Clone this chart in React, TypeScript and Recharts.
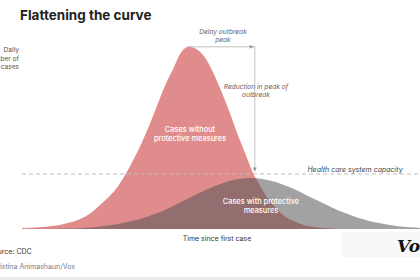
import { Area, ComposedChart, ReferenceDot, ReferenceLine, XAxis, YAxis } from 'recharts';

// time since first case (arbitrary units)
const time = [
  0, 2, 4, 6, 8, 10, 12, 14, 16, 18, 20, 22, 24, 26, 28, 30, 32, 34, 36, 38, 40, 42, 44, 46, 48, 50,
  52, 54, 56, 58, 60, 62, 64, 66, 68, 70, 72, 74, 76, 78, 80, 82, 84, 86, 88, 90, 92, 94, 96, 98, 100,
];

// daily cases without protective measures (peak = 100)
const withoutMeasures = [
  0.5, 0.7, 1, 1.3, 1.8, 2.5, 3.5, 5, 7, 10, 14, 18, 23, 30, 38, 47, 57, 68, 79, 88, 97, 100, 98.5, 94,
  86, 76, 65, 53, 42, 31, 23, 16, 11, 7, 4.6, 2.8, 1.7, 1, 0.5, 0.3, 0, 0, 0, 0, 0, 0, 0, 0, 0, 0, 0,
];

// daily cases with protective measures
const withMeasures = [
  0, 0, 0.05, 0.1, 0.15, 0.2, 0.3, 0.45, 0.7, 1, 1.5, 2, 2.7, 3.6, 4.6, 5.8, 7.2, 8.8, 10.6, 12.6,
  14.8, 17, 19.2, 21.3, 23.2, 24.9, 26.3, 27.3, 27.9, 28, 27.6, 26.8, 25.6, 24, 22.2, 20.2, 18, 15.9,
  13.8, 11.7, 9.8, 8.1, 6.5, 5.2, 4, 3.1, 2.3, 1.7, 1.3, 0.9, 0.6,
];

const capacity = 30.2;
const peakShift = [41.5, 58.5]; // delay of the outbreak peak
const reducedPeak = 31.5; // where the reduction arrow ends

const rows = time.map((t, i) => ({ t, red: withoutMeasures[i], gray: withMeasures[i] }));

const arrowColor = '#b3b3b3';

const ArrowRight = (p: any) => (
  <path d={`M${p.cx - 4},${p.cy - 2} L${p.cx},${p.cy} L${p.cx - 4},${p.cy + 2} Z`} fill='#999' />
);
const ArrowDown = (p: any) => (
  <path d={`M${p.cx - 2},${p.cy - 4} L${p.cx},${p.cy} L${p.cx + 2},${p.cy - 4} Z`} fill='#999' />
);

export default function App() {
  const small = { fontFamily: 'Inter, sans-serif', fontSize: 6.6 };
  return (
    <div style={{ position: 'fixed', left: 0, top: 0, width: 420, height: 280, background: '#fff', overflow: 'hidden' }}>
      <ComposedChart width={420} height={280} data={rows} margin={{ top: 45, right: 0, bottom: 51, left: 22 }}>
        <XAxis dataKey='t' type='number' domain={[0, 99.5]} height={0} tick={false} tickLine={false} axisLine={{ stroke: '#dcdcdc' }} />
        <YAxis type='number' domain={[0, 101]} width={0} tick={false} tickLine={false} axisLine={{ stroke: '#dcdcdc' }} />
        <Area type='monotone' dataKey='red' stroke='none' fill='#e08c8c' fillOpacity={1} isAnimationActive={false} />
        <Area type='monotone' dataKey='gray' stroke='none' fill='#555555' fillOpacity={0.55} isAnimationActive={false} />
        <ReferenceLine y={capacity} stroke='#bdbdbd' strokeDasharray='4 3' />
        <ReferenceLine segment={[{ x: peakShift[0], y: 100 }, { x: peakShift[1], y: 100 }]} stroke={arrowColor} strokeWidth={0.8} />
        <ReferenceLine segment={[{ x: peakShift[1], y: 100 }, { x: peakShift[1], y: reducedPeak }]} stroke={arrowColor} strokeWidth={0.8} />
        <ReferenceDot x={peakShift[1] - 0.3} y={100} r={2} shape={ArrowRight} />
        <ReferenceDot x={peakShift[1]} y={reducedPeak} r={2} shape={ArrowDown} />
      </ComposedChart>
      <svg width={420} height={280} style={{ position: 'absolute', left: 0, top: 0, pointerEvents: 'none' }}>
        <text x={20} y={20} fontFamily='Inter, sans-serif' fontWeight={700} fontSize={13.5} fill='#222'>
          Flattening the curve
        </text>
        <g {...small} fill='#555' textAnchor='end'>
          <text x={19} y={52}>Daily</text>
          <text x={19} y={60.5}>number of</text>
          <text x={19} y={69}>cases</text>
        </g>
        <g {...small} fill='#666' fontStyle='italic' textAnchor='middle'>
          <text x={223} y={34}>Delay outbreak</text>
          <text x={223} y={42}>peak</text>
          <text x={256} y={89}>Reduction in peak of</text>
          <text x={256} y={97}>outbreak</text>
        </g>
        <text x={355} y={171.5} {...small} fontSize={7} fill='#444' fontStyle='italic' textAnchor='middle'>
          Health care system capacity
        </text>
        <g {...small} fontSize={7.4} fill='#fff' textAnchor='middle' fontWeight={500}>
          <text x={190} y={132}>Cases without</text>
          <text x={190} y={141}>protective measures</text>
          <text x={261} y={203.5}>Cases with protective</text>
          <text x={261} y={212.5}>measures</text>
        </g>
        <text x={217} y={240.5} {...small} fontSize={7} fill='#333' textAnchor='middle'>
          Time since first case
        </text>
        <text x={-11} y={254} {...small} fontSize={7} fill='#333'>Source: CDC</text>
        <text x={-12} y={269} {...small} fontSize={7} fill='#6f7f8f'>Christina Animashaun/Vox</text>
        <rect x={342} y={232} width={78} height={25} fill='#f8f8f8' />
        <text x={397} y={252} fontFamily='DejaVu Serif, serif' fontWeight={700} fontStyle='italic' fontSize={17} fill='#111'>
          Vox
        </text>
        <rect x={0} y={277} width={420} height={3} fill='#ececec' />
      </svg>
    </div>
  );
}
